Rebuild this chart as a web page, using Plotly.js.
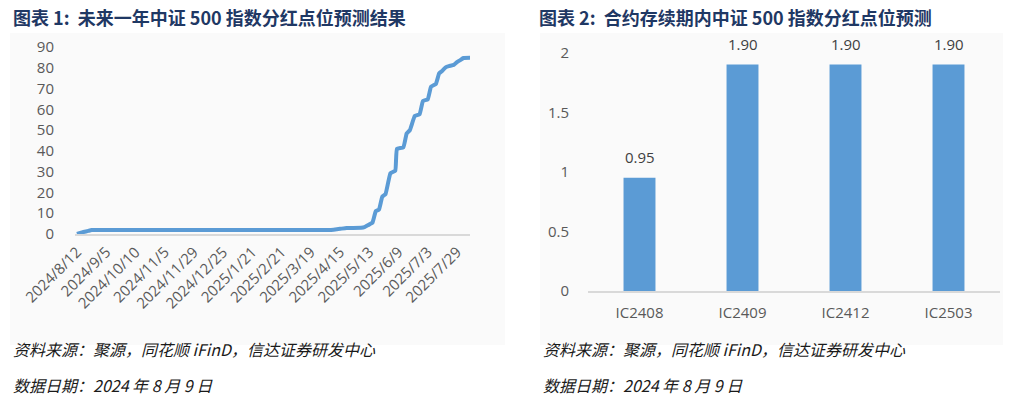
<!DOCTYPE html>
<html>
<head>
<meta charset="utf-8">
<script src="https://cdn.plot.ly/plotly-3.0.1.min.js"></script>
<style>html,body{margin:0;padding:0;background:#fff;}#chart{width:1027px;height:404px;}</style>
</head>
<body>
<div id="chart"></div>
<script>
// Left chart: trading-day index since 2024/8/12 and cumulative dividend points
const dayIndex = [0, 2, 4, 7, 9, 155, 158, 162, 166, 175, 177, 179, 181, 182, 184, 186, 188, 190, 193, 196, 197, 201, 203, 205, 208, 211, 213, 216, 218, 221, 223, 225, 227, 229, 232, 234, 236, 238, 242];
const dividendPoints = [0, 0.5, 0.95, 1.5, 1.9, 1.9, 2.1, 2.5, 2.9, 3.0, 3.3, 4.2, 5.0, 5.5, 11.0, 11.8, 18.0, 19.2, 29.2, 30.5, 41.0, 41.7, 48.4, 50.0, 56.8, 57.7, 64.0, 64.8, 70.9, 72.2, 77.3, 78.6, 80.2, 80.8, 81.4, 82.7, 83.7, 84.7, 84.8];
const dateTickIndex = [0, 18, 36, 54, 72, 90, 108, 126, 144, 162, 180, 198, 216, 234];
const dateTickLabels = ['2024/8/12', '2024/9/5', '2024/10/10', '2024/11/5', '2024/11/29', '2024/12/25', '2025/1/21', '2025/2/21', '2025/3/19', '2025/4/15', '2025/5/13', '2025/6/9', '2025/7/3', '2025/7/29'];

// Right chart: contracts and predicted dividend points
const contracts = ['IC2408', 'IC2409', 'IC2412', 'IC2503'];
const contractPoints = [0.95, 1.90, 1.90, 1.90];
const contractLabels = ['0.95', '1.90', '1.90', '1.90'];

const W = 1027, H = 404;
const px = v => v / W;
const py = v => 1 - v / H;

const tickFont = {family: '"Open Sans", "DejaVu Sans", sans-serif', size: 15, color: '#595959'};
const cjk = '"Noto Sans CJK SC", "Noto Sans", sans-serif';

const traces = [
  {
    type: 'scatter', mode: 'lines', x: dayIndex, y: dividendPoints,
    xaxis: 'x', yaxis: 'y',
    line: {color: '#5B9BD5', width: 4, shape: 'spline', smoothing: 0.3},
    hoverinfo: 'skip', showlegend: false
  },
  {
    type: 'bar', x: contracts, y: contractPoints,
    xaxis: 'x2', yaxis: 'y2',
    marker: {color: '#5B9BD5'}, width: 0.31,
    hoverinfo: 'skip', showlegend: false
  }
];

const barLabels = contracts.map((c, i) => ({
  xref: 'x2', yref: 'y2', x: c, y: contractPoints[i], yanchor: 'bottom', yshift: 9,
  showarrow: false, text: contractLabels[i],
  font: {family: tickFont.family, size: 15, color: '#404040'}
}));

const layout = {
  width: W, height: H,
  margin: {l: 0, r: 0, t: 0, b: 0},
  paper_bgcolor: '#ffffff', plot_bgcolor: 'rgba(0,0,0,0)',
  showlegend: false,
  xaxis: {
    domain: [px(75), px(470)], range: [-1.2, 242],
    tickmode: 'array', tickvals: dateTickIndex, ticktext: dateTickLabels,
    tickangle: -45, tickfont: tickFont, showgrid: false, zeroline: false,
    showline: true, linecolor: '#D9D9D9', linewidth: 1.5, ticks: 'outside', ticklen: 2, tickcolor: 'rgba(0,0,0,0)', anchor: 'y'
  },
  yaxis: {
    domain: [py(234), py(47)], range: [0, 90], dtick: 10, tick0: 0,
    tickfont: tickFont, showgrid: false, zeroline: false, showline: false,
    ticks: 'outside', ticklen: 17, tickcolor: 'rgba(0,0,0,0)', anchor: 'x'
  },
  xaxis2: {
    domain: [px(588), px(1000)], anchor: 'y2',
    tickfont: tickFont, showgrid: false, zeroline: false,
    showline: true, linecolor: '#D9D9D9', linewidth: 1.5, ticks: 'outside', ticklen: 7, tickcolor: 'rgba(0,0,0,0)'
  },
  yaxis2: {
    domain: [py(291), py(52.7)], range: [0, 2], anchor: 'x2',
    tickmode: 'array', tickvals: [0, 0.5, 1, 1.5, 2], ticktext: ['0', '0.5', '1', '1.5', '2'],
    tickfont: tickFont, showgrid: false, zeroline: false, showline: false,
    ticks: 'outside', ticklen: 15, tickcolor: 'rgba(0,0,0,0)'
  },
  shapes: [
    {type: 'rect', xref: 'paper', yref: 'paper', x0: px(10), x1: px(505), y0: py(345), y1: py(33), fillcolor: '#FAFAFA', line: {width: 0}, layer: 'below'},
    {type: 'rect', xref: 'paper', yref: 'paper', x0: px(540), x1: px(1003), y0: py(345), y1: py(33), fillcolor: '#FAFAFA', line: {width: 0}, layer: 'below'}
  ],
  annotations: barLabels.concat([
    {xref: 'paper', yref: 'paper', x: px(11), y: py(17), xanchor: 'left', yanchor: 'middle', showarrow: false,
     text: '<b>图表 1:  未来一年中证 500 指数分红点位预测结果</b>', font: {family: cjk, size: 18, color: '#1F3864'}},
    {xref: 'paper', yref: 'paper', x: px(537), y: py(17), xanchor: 'left', yanchor: 'middle', showarrow: false,
     text: '<b>图表 2:  合约存续期内中证 500 指数分红点位预测</b>', font: {family: cjk, size: 18, color: '#1F3864'}},
    {xref: 'paper', yref: 'paper', x: px(11), y: py(349), xanchor: 'left', yanchor: 'middle', showarrow: false,
     text: '<i>资料来源：聚源，同花顺 iFinD，信达证券研发中心</i>', font: {family: cjk, size: 16, color: '#1a1a1a'}},
    {xref: 'paper', yref: 'paper', x: px(11), y: py(385), xanchor: 'left', yanchor: 'middle', showarrow: false,
     text: '<i>数据日期：2024 年 8 月 9 日</i>', font: {family: cjk, size: 16, color: '#1a1a1a'}},
    {xref: 'paper', yref: 'paper', x: px(541), y: py(349), xanchor: 'left', yanchor: 'middle', showarrow: false,
     text: '<i>资料来源：聚源，同花顺 iFinD，信达证券研发中心</i>', font: {family: cjk, size: 16, color: '#1a1a1a'}},
    {xref: 'paper', yref: 'paper', x: px(541), y: py(385), xanchor: 'left', yanchor: 'middle', showarrow: false,
     text: '<i>数据日期：2024 年 8 月 9 日</i>', font: {family: cjk, size: 16, color: '#1a1a1a'}}
  ])
};

Plotly.newPlot('chart', traces, layout, {staticPlot: true, displayModeBar: false});
</script>
</body>
</html>
